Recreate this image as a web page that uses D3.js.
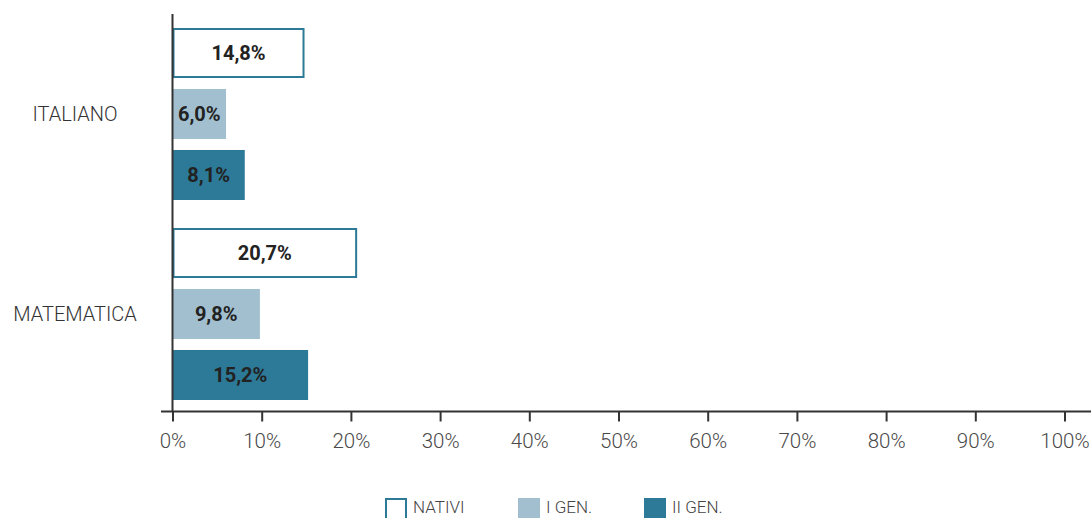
<!DOCTYPE html>
<html><head><meta charset="utf-8">
<script src="https://cdn.jsdelivr.net/npm/d3@7"></script>
<style>
html,body{margin:0;padding:0;background:#fff;}
svg{display:block;}
</style></head>
<body>
<svg id="chart" width="1091" height="518"></svg>
<script>
const categories = ["ITALIANO", "MATEMATICA"];
const seriesNames = ["NATIVI", "I GEN.", "II GEN."];
const nativi = [14.8, 20.7];
const iGen = [6.0, 9.8];
const iiGen = [8.1, 15.2];
const valueLabels = [["14,8%", "6,0%", "8,1%"], ["20,7%", "9,8%", "15,2%"]];
const xTicks = [0, 10, 20, 30, 40, 50, 60, 70, 80, 90, 100];
const xTickLabels = ["0%", "10%", "20%", "30%", "40%", "50%", "60%", "70%", "80%", "90%", "100%"];

const seriesValues = [nativi, iGen, iiGen];
const colorFill = ["#ffffff", "#a2bfcf", "#2c7a98"];
const colorStroke = ["#2c7a98", "none", "none"];

const svg = d3.select("#chart");
const x = d3.scaleLinear().domain([0, 100]).range([172.5, 1064.5]);
const y0 = d3.scaleBand().domain(categories).range([14, 414]).paddingInner(0.14).paddingOuter(0.07);
const y1 = d3.scaleBand().domain(seriesNames).range([0, y0.bandwidth()]).paddingInner(0.18);

const rows = [];
categories.forEach((c, ci) => {
  seriesNames.forEach((s, si) => {
    rows.push({cat: c, ser: s, si: si, v: seriesValues[si][ci], label: valueLabels[ci][si]});
  });
});

// bars
svg.append("g").selectAll("rect").data(rows).join("rect")
  .attr("x", d => x(0) + (d.si === 0 ? 1 : 0))
  .attr("y", d => y0(d.cat) + y1(d.ser) + (d.si === 0 ? 1 : 0))
  .attr("width", d => x(d.v) - x(0) - (d.si === 0 ? 2 : 0))
  .attr("height", d => y1.bandwidth() - (d.si === 0 ? 2 : 0))
  .attr("fill", d => colorFill[d.si])
  .attr("stroke", d => colorStroke[d.si])
  .attr("stroke-width", 2);

// value labels
svg.append("g").selectAll("text").data(rows).join("text")
  .attr("x", d => (x(0) + x(d.v)) / 2)
  .attr("y", d => y0(d.cat) + y1(d.ser) + y1.bandwidth() / 2)
  .attr("dy", "0.36em")
  .attr("text-anchor", "middle")
  .attr("font-family", "Roboto, sans-serif")
  .attr("font-weight", "bold")
  .attr("font-size", 20)
  .attr("fill", "#222")
  .text(d => d.label);

// category labels
svg.append("g").selectAll("text").data(categories).join("text")
  .attr("x", 75)
  .attr("y", d => y0(d) + y0.bandwidth() / 2)
  .attr("dy", "0.36em")
  .attr("text-anchor", "middle")
  .attr("font-family", "Roboto, sans-serif")
  .attr("font-weight", 300)
  .attr("font-size", 20)
  .attr("fill", "#333")
  .text(d => d);

// y axis line
svg.append("line")
  .attr("x1", x(0)).attr("x2", x(0))
  .attr("y1", 14).attr("y2", 412)
  .attr("stroke", "#333").attr("stroke-width", 2);

// x axis
const xAxis = d3.axisBottom(x).tickValues(xTicks).tickSize(10)
  .tickFormat((d, i) => xTickLabels[i]).tickSizeOuter(0);
const gx = svg.append("g").attr("transform", "translate(0,411.5)").call(xAxis);
gx.select(".domain").remove();
gx.selectAll(".tick line").attr("y1", 0).attr("y2", 10).attr("stroke", "#333").attr("stroke-width", 2);
gx.selectAll(".tick text")
  .attr("y", 22).attr("dy", "0.71em")
  .attr("font-family", "Roboto, sans-serif")
  .attr("font-weight", 300)
  .attr("font-size", 20.5)
  .attr("fill", "#4a4a4a");
svg.append("line")
  .attr("x1", 161).attr("x2", 1091)
  .attr("y1", 411.5).attr("y2", 411.5)
  .attr("stroke", "#333").attr("stroke-width", 2);

// legend
const legendX = [385, 518, 644];
const lg = svg.append("g").selectAll("g").data(seriesNames).join("g")
  .attr("transform", (d, i) => `translate(${legendX[i]},498)`);
lg.append("rect")
  .attr("x", (d, i) => i === 0 ? 1 : 0)
  .attr("y", (d, i) => i === 0 ? 1 : 0)
  .attr("width", (d, i) => i === 0 ? 20 : 22)
  .attr("height", 22)
  .attr("fill", (d, i) => colorFill[i])
  .attr("stroke", (d, i) => colorStroke[i])
  .attr("stroke-width", 2);
lg.append("text")
  .attr("x", 28)
  .attr("y", 15)
  .attr("font-family", "Roboto, sans-serif")
  .attr("font-weight", 300)
  .attr("font-size", 17)
  .attr("fill", "#444")
  .text(d => d);
</script>
</body></html>
